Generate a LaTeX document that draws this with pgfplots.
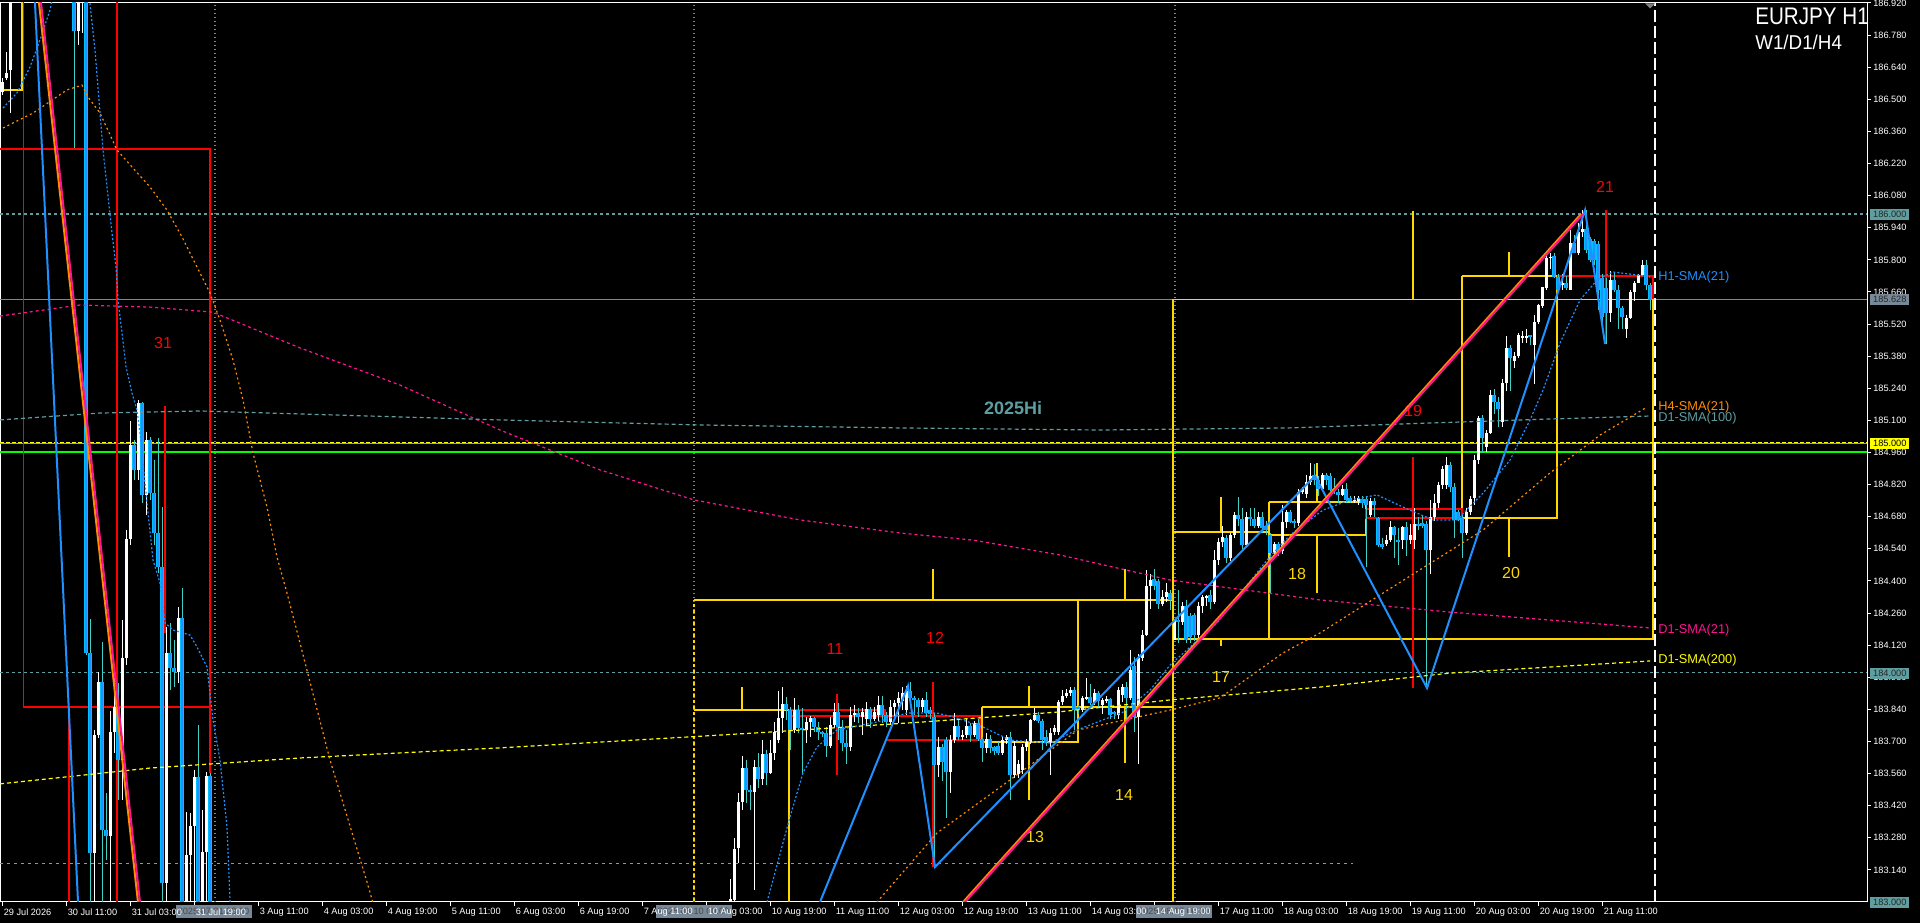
\documentclass[border=0pt]{standalone}
\usepackage{fontspec}
\setmainfont{Liberation Sans}
\usepackage{pgfplots}
\usepackage{pgfplotstable}
\pgfplotsset{compat=1.18}

\definecolor{dodger}{HTML}{1E90FF}
\definecolor{skyb}{HTML}{00BFFF}
\definecolor{turq}{HTML}{40D0C8}
\definecolor{dpink}{HTML}{FF1493}
\definecolor{dorange}{HTML}{FF8C00}
\definecolor{gold}{HTML}{FFD700}
\definecolor{yel}{HTML}{FFFF00}
\definecolor{cadet}{HTML}{5F9EA0}
\definecolor{slate}{HTML}{778899}
\definecolor{lime}{HTML}{00FF00}
\definecolor{gridgrey}{HTML}{808080}

\newcommand\ticklab{\fontsize{6.9}{8}\selectfont}
\newcommand\numlab{\fontsize{12}{14}\selectfont}
\newcommand\smalab{\fontsize{9.6}{11}\selectfont}

% EURJPY H1 candles: bar index, open, high, low, close
\pgfplotstableread{
i o h l c
0 186.532 186.593 186.519 186.575
1 186.593 186.706 186.584 186.615
2 186.628 187.200 186.440 187.100
18 187.300 187.400 186.288 186.800
19 186.800 187.300 186.737 187.200
20 187.000 187.400 186.790 187.300
21 187.300 187.400 184.077 184.086
22 184.086 184.234 182.900 183.214
23 183.214 183.750 182.900 183.728
24 183.728 184.003 183.715 183.959
25 183.959 184.134 182.900 183.314
26 183.314 183.475 183.183 183.288
27 183.288 183.833 182.900 183.741
28 183.741 183.977 183.650 183.850
29 183.850 183.955 183.445 183.619
30 183.619 184.230 183.445 184.064
31 184.064 184.622 184.033 184.583
32 184.583 185.097 184.557 184.993
33 184.993 185.014 184.840 184.884
34 184.884 185.189 184.840 185.176
35 185.176 185.180 184.740 184.775
36 184.775 185.050 184.688 185.014
37 185.014 185.028 184.753 184.784
38 184.784 184.927 184.557 184.609
39 184.609 185.023 184.434 184.461
40 184.461 184.722 182.900 183.083
41 183.083 184.199 182.900 184.086
42 184.086 184.217 183.924 184.020
43 184.020 184.142 183.937 184.003
44 184.003 184.286 183.955 184.238
45 184.238 184.369 182.900 182.950
46 182.950 183.393 182.900 183.205
47 183.205 183.388 182.900 183.331
48 183.331 183.576 182.900 183.545
49 183.545 183.772 182.900 182.950
50 182.950 183.401 182.900 183.218
51 183.218 183.567 182.900 183.549
52 183.549 183.563 182.900 182.950
182 182.990 183.100 182.980 183.013
183 183.009 183.279 182.980 183.235
184 183.235 183.475 183.170 183.436
185 183.436 183.637 183.401 183.584
186 183.584 183.619 183.432 183.488
187 183.488 183.510 183.401 183.480
188 183.480 183.619 183.052 183.589
189 183.589 183.650 183.500 183.536
190 183.536 183.706 183.510 183.645
191 183.645 183.663 183.510 183.563
192 183.563 183.706 183.560 183.650
193 183.650 183.785 183.619 183.741
194 183.706 183.920 183.695 183.802
195 183.802 183.937 183.737 183.863
196 183.863 183.894 183.794 183.837
197 183.837 183.850 183.663 183.750
198 183.750 183.889 183.737 183.837
199 183.837 183.859 183.737 183.759
200 183.759 183.846 183.554 183.750
201 183.750 183.807 183.695 183.785
202 183.785 183.810 183.720 183.802
203 183.802 183.807 183.741 183.763
204 183.763 183.785 183.706 183.741
205 183.741 183.745 183.720 183.737
206 183.737 183.763 183.632 183.680
207 183.680 183.807 183.672 183.772
208 183.772 183.868 183.763 183.828
209 183.828 183.868 183.706 183.763
210 183.763 183.794 183.658 183.693
211 183.693 183.750 183.602 183.676
212 183.676 183.850 183.660 183.815
213 183.815 183.859 183.785 183.824
214 183.824 183.846 183.780 183.807
215 183.807 183.846 183.728 183.828
216 183.800 183.870 183.770 183.840
217 183.840 183.850 183.760 183.800
218 183.800 183.850 183.790 183.830
219 183.815 183.900 183.790 183.859
220 183.859 183.900 183.780 183.815
221 183.815 183.830 183.763 183.785
222 183.785 183.880 183.772 183.850
223 183.850 183.881 183.807 183.868
224 183.868 183.916 183.780 183.890
225 183.880 183.937 183.837 183.911
226 183.837 183.942 183.815 183.920
227 183.920 183.960 183.859 183.890
228 183.890 183.900 183.815 183.880
229 183.880 183.890 183.807 183.850
230 183.850 183.890 183.830 183.880
231 183.880 183.916 183.807 183.824
232 183.840 183.850 183.800 183.820
233 183.807 183.824 183.153 183.598
234 183.598 183.720 183.545 183.676
235 183.676 183.690 183.530 183.610
236 183.706 183.720 183.366 183.567
237 183.567 183.728 183.475 183.706
238 183.706 183.824 183.695 183.767
239 183.767 183.794 183.706 183.720
240 183.720 183.750 183.706 183.730
241 183.730 183.800 183.715 183.767
242 183.767 183.780 183.700 183.730
243 183.730 183.790 183.720 183.780
244 183.780 183.800 183.700 183.710
245 183.710 183.720 183.610 183.672
246 183.672 183.740 183.650 183.710
247 183.710 183.730 183.650 183.670
248 183.676 183.680 183.640 183.660
249 183.680 183.700 183.640 183.650
250 183.650 183.720 183.640 183.706
251 183.706 183.730 183.690 183.720
252 183.720 183.740 183.445 183.554
253 183.554 183.700 183.540 183.680
254 183.560 183.620 183.540 183.600
255 183.576 183.690 183.560 183.676
256 183.676 183.710 183.660 183.697
257 183.697 183.800 183.690 183.794
258 183.794 183.846 183.790 183.815
259 183.815 183.830 183.780 183.790
260 183.790 183.800 183.663 183.706
261 183.720 183.750 183.680 183.697
262 183.697 183.760 183.554 183.740
263 183.740 183.770 183.730 183.760
264 183.740 183.880 183.730 183.872
265 183.872 183.924 183.860 183.898
266 183.898 183.930 183.890 183.910
267 183.910 183.940 183.900 183.925
268 183.925 183.937 183.750 183.837
269 183.850 183.860 183.820 183.837
270 183.837 183.900 183.830 183.890
271 183.890 183.977 183.880 183.894
272 183.894 183.950 183.860 183.870
273 183.870 183.930 183.860 183.911
274 183.911 183.920 183.850 183.875
275 183.860 183.890 183.820 183.880
276 183.880 183.900 183.870 183.885
277 183.885 183.890 183.800 183.815
278 183.830 183.835 183.800 183.820
279 183.815 183.937 183.800 183.924
280 183.904 183.950 183.870 183.937
281 183.937 183.960 183.785 183.890
282 183.890 184.099 183.880 184.012
283 184.030 184.070 183.740 183.807
284 183.807 184.080 183.600 184.064
285 184.064 184.186 184.050 184.165
286 184.165 184.448 184.160 184.380
287 184.380 184.430 184.280 184.404
288 184.410 184.452 184.360 184.380
289 184.400 184.410 184.280 184.300
290 184.300 184.360 184.290 184.330
291 184.330 184.390 184.310 184.350
292 184.350 184.360 184.273 184.317
293 184.142 184.235 184.142 184.230
294 184.230 184.360 184.130 184.220
295 184.220 184.310 184.210 184.290
296 184.290 184.317 184.130 184.142
297 184.250 184.260 184.130 184.155
298 184.250 184.260 184.140 184.165
299 184.165 184.310 184.150 184.290
300 184.290 184.340 184.260 184.330
301 184.330 184.340 184.290 184.335
302 184.340 184.360 184.280 184.310
303 184.310 184.535 184.300 184.491
304 184.491 184.590 184.470 184.570
305 184.570 184.640 184.550 184.590
306 184.590 184.600 184.478 184.500
307 184.500 184.610 184.490 184.600
308 184.600 184.700 184.590 184.688
309 184.688 184.766 184.640 184.670
310 184.670 184.720 184.535 184.557
311 184.557 184.700 184.550 184.680
312 184.680 184.720 184.640 184.670
313 184.670 184.720 184.630 184.640
314 184.640 184.700 184.630 184.680
315 184.680 184.700 184.610 184.630
316 184.640 184.660 184.600 184.620
317 184.600 184.610 184.350 184.520
318 184.520 184.570 184.510 184.560
319 184.560 184.570 184.510 184.530
320 184.530 184.730 184.520 184.657
321 184.657 184.710 184.630 184.700
322 184.700 184.710 184.655 184.660
323 184.660 184.670 184.630 184.655
324 184.655 184.800 184.640 184.788
325 184.788 184.810 184.780 184.800
326 184.780 184.860 184.760 184.831
327 184.831 184.914 184.820 184.860
328 184.860 184.910 184.820 184.840
329 184.840 184.860 184.770 184.800
330 184.800 184.870 184.790 184.860
331 184.860 184.870 184.820 184.840
332 184.860 184.870 184.790 184.796
333 184.800 184.850 184.780 184.790
334 184.790 184.800 184.740 184.775
335 184.775 184.820 184.770 184.800
336 184.800 184.830 184.740 184.753
337 184.760 184.770 184.740 184.750
338 184.750 184.770 184.740 184.755
339 184.750 184.770 184.730 184.760
340 184.760 184.770 184.720 184.740
341 184.760 184.770 184.460 184.731
342 184.688 184.760 184.680 184.750
343 184.750 184.760 184.680 184.730
344 184.675 184.680 184.550 184.557
345 184.560 184.590 184.540 184.550
346 184.560 184.600 184.555 184.580
347 184.578 184.660 184.570 184.635
348 184.635 184.640 184.500 184.600
349 184.580 184.630 184.470 184.575
350 184.580 184.640 184.540 184.635
351 184.635 184.660 184.510 184.580
352 184.580 184.650 184.560 184.600
353 184.580 184.720 184.540 184.650
354 184.650 184.680 184.620 184.640
355 184.655 184.690 184.630 184.640
356 184.650 184.660 183.933 184.535
357 184.535 184.753 184.430 184.680
358 184.680 184.780 184.660 184.740
359 184.740 184.830 184.720 184.820
360 184.820 184.900 184.800 184.890
361 184.820 184.940 184.800 184.906
362 184.906 184.920 184.790 184.810
363 184.810 184.830 184.590 184.666
364 184.700 184.710 184.660 184.666
365 184.675 184.690 184.500 184.610
366 184.610 184.720 184.600 184.700
367 184.700 184.770 184.690 184.760
368 184.760 184.950 184.730 184.927
369 184.927 185.120 184.910 185.110
370 185.110 185.125 184.960 185.023
371 184.984 185.060 184.960 185.045
372 185.045 185.232 185.040 185.210
373 185.210 185.240 185.130 185.180
374 185.180 185.200 185.070 185.150
375 185.093 185.280 185.070 185.263
376 185.263 185.470 185.230 185.416
377 185.416 185.430 185.230 185.370
378 185.360 185.400 185.330 185.380
379 185.380 185.480 185.370 185.473
380 185.460 185.490 185.440 185.470
381 185.460 185.500 185.440 185.470
382 185.470 185.470 185.430 185.465
383 185.430 185.560 185.260 185.530
384 185.530 185.610 185.520 185.603
385 185.600 185.680 185.590 185.680
386 185.680 185.834 185.670 185.810
387 185.810 185.830 185.760 185.815
388 185.815 185.830 185.720 185.725
389 185.725 185.740 185.660 185.668
390 185.690 185.740 185.670 185.700
391 185.700 185.730 185.670 185.680
392 185.670 185.930 185.670 185.874
393 185.874 185.910 185.830 185.830
394 185.830 185.960 185.820 185.920
395 185.920 186.017 185.900 185.935
396 185.935 186.017 185.830 185.843
397 185.890 185.900 185.790 185.800
398 185.880 185.890 185.780 185.800
399 185.870 185.880 185.580 185.668
400 185.720 185.740 185.490 185.550
401 185.680 185.720 185.433 185.568
402 185.568 185.750 185.530 185.712
403 185.712 185.750 185.660 185.670
404 185.670 185.690 185.500 185.590
405 185.590 185.600 185.500 185.550
406 185.500 185.560 185.460 185.546
407 185.546 185.670 185.540 185.660
408 185.660 185.710 185.620 185.700
409 185.700 185.740 185.700 185.734
410 185.734 185.800 185.730 185.777
411 185.777 185.800 185.670 185.690
412 185.690 185.700 185.580 185.628
}\candles

\pgfplotsset{
  lw/.style={line width=0.9pt},
  bx/.style={line width=1pt},
  bull/.style={restrict expr to domain={\thisrow{c}-\thisrow{o}}{0:100}},
  bear/.style={restrict expr to domain={\thisrow{c}-\thisrow{o}}{-100:-0.00001}},
}

\begin{document}
\begin{tikzpicture}
\fill[black] (0,0) rectangle (1440pt,692.25pt);
\begin{axis}[
  at={(0pt,15.75pt)}, anchor=south west, scale only axis,
  width=1400.25pt, height=674.25pt,
  xmin=-0.5, xmax=466.25, ymin=183, ymax=186.92,
  axis line style={white, line width=0.75pt},
  xtick={0,16,32,48,64,80,96,112,128,144,160,176,192,208,224,240,256,272,288,304,320,336,352,368,384,400},
  ytick={183.14,183.28,183.42,183.56,183.70,183.84,183.98,184.12,184.26,184.40,184.54,184.68,184.82,184.96,185.10,185.24,185.38,185.52,185.66,185.80,185.94,186.08,186.22,186.36,186.50,186.64,186.78,186.92},
  xticklabel={}, yticklabel={},
  xtick pos=bottom, ytick pos=right,
  tick align=outside, major tick length=3pt,
  tick style={white, line width=0.75pt},
  clip=true,
]
% grid and separators
\addplot[gridgrey, lw, dash pattern=on 0.75pt off 2.25pt] coordinates {(53.25,183)(53.25,186.92)};
\addplot[gridgrey, lw, dash pattern=on 0.75pt off 2.25pt] coordinates {(173,183)(173,186.92)};
\addplot[gridgrey, lw, dash pattern=on 0.75pt off 2.25pt] coordinates {(293.25,183)(293.25,186.92)};
% price levels
\addplot[cadet, lw, dash pattern=on 2.25pt off 2.25pt] coordinates {(-0.5,186)(466.25,186)};
\addplot[cadet, lw, dash pattern=on 2.25pt off 2.25pt] coordinates {(-0.5,184)(466.25,184)};
\addplot[slate, lw] coordinates {(-0.5,185.628)(466.25,185.628)};
\addplot[cadet!80!white, lw] coordinates {(-0.5,184.998)(466.25,184.998)};
\addplot[yel, lw, dash pattern=on 3pt off 1.5pt] coordinates {(-0.5,185.003)(466.25,185.003)};
\addplot[lime, line width=1.6pt] coordinates {(-0.5,184.962)(466.25,184.962)};
\addplot[dorange!70!gray, line width=0.6pt, dash pattern=on 2.25pt off 3pt] coordinates {(-0.5,183.170)(337.75,183.170)};

% daily / weekly boxes (yellow)
\addplot[gold, bx] coordinates {(0.25,186.541)(5,186.541)(5,187)};
\addplot[gold, bx, dash pattern=on 2.25pt off 2.25pt] coordinates {(173,182.9)(173,184.317)};
\addplot[gold, bx] coordinates {(173,184.317)(292.75,184.317)};
\addplot[gold, bx] coordinates {(292.75,182.9)(292.75,185.628)};
\addplot[gold, bx] coordinates {(232.75,184.317)(232.75,184.452)};
\addplot[gold, bx] coordinates {(173,183.837)(196.75,183.837)(196.75,182.9)};
\addplot[gold, bx] coordinates {(185,183.837)(185,183.937)};
\addplot[gold, bx] coordinates {(245,183.85)(269,183.85)(269,183.697)(245,183.697)(245,183.85)};
\addplot[gold, bx] coordinates {(256.75,183.942)(256.75,183.85)};
\addplot[gold, bx] coordinates {(256.75,183.697)(256.75,183.445)};
\addplot[gold, bx] coordinates {(269,184.317)(269,183.85)(292.75,183.85)};
\addplot[gold, bx] coordinates {(280.75,184.452)(280.75,184.317)};
\addplot[gold, bx] coordinates {(280.75,183.85)(280.75,183.605)};
\addplot[gold, bx] coordinates {(292.75,185.628)(412.75,185.628)(412.75,184.147)(292.75,184.147)};
\addplot[gold, bx] coordinates {(352.75,186.013)(352.75,185.628)};
\addplot[gold, bx] coordinates {(352.75,184.147)(352.75,183.933)};
\addplot[gold, bx] coordinates {(292.75,184.613)(316.75,184.613)(316.75,184.147)};
\addplot[gold, bx] coordinates {(304.75,184.766)(304.75,184.613)};
\addplot[gold, bx] coordinates {(304.75,184.147)(304.75,184.116)};
\addplot[gold, bx] coordinates {(316.75,184.744)(341,184.744)(341,184.600)(316.75,184.600)(316.75,184.744)};
\addplot[gold, bx] coordinates {(328.75,184.914)(328.75,184.744)};
\addplot[gold, bx] coordinates {(328.75,184.600)(328.75,184.347)};
\addplot[gold, bx] coordinates {(365,185.729)(388.75,185.729)(388.75,184.674)(365,184.674)(365,185.729)};
\addplot[gold, bx] coordinates {(376.75,185.834)(376.75,185.729)};
\addplot[gold, bx] coordinates {(376.75,184.674)(376.75,184.504)};
% daily boxes (red)
\addplot[red, bx] coordinates {(-0.5,186.283)(52,186.283)(52,183.563)};
\addplot[red, bx] coordinates {(5.4,187)(5.4,183.85)(52,183.85)};
\addplot[red, bx] coordinates {(28.75,182.9)(28.75,187)};
\addplot[red, bx] coordinates {(16.75,183.807)(16.75,182.9)};
\addplot[red, bx] coordinates {(40.75,185.163)(40.75,184.173)};
\addplot[red, bx] coordinates {(196.75,183.837)(220.75,183.837)(220.75,183.811)(196.75,183.811)(196.75,183.837)};
\addplot[red, bx] coordinates {(208.75,183.907)(208.75,183.554)};
\addplot[red, bx] coordinates {(220.75,183.811)(244.5,183.811)(244.5,183.706)(220.75,183.706)};
\addplot[red, bx] coordinates {(232.75,183.959)(232.75,183.153)};
\addplot[red, bx] coordinates {(341,184.714)(365,184.714)(365,184.674)(341,184.674)(341,184.714)};
\addplot[red, bx] coordinates {(352.75,184.940)(352.75,183.933)};
\addplot[red, bx] coordinates {(388.75,185.729)(412.75,185.729)(412.75,185.628)};
\addplot[red, bx] coordinates {(401,186.017)(401,185.433)};

% candles: wicks
\addplot[draw=none, bull, error bars/.cd, y dir=both, y explicit, error mark=none,
  error bar style={draw=white, line width=0.75pt}]
  table[x=i, y expr=(\thisrow{h}+\thisrow{l})/2, y error expr=(\thisrow{h}-\thisrow{l})/2]{\candles};
\addplot[draw=none, bear, error bars/.cd, y dir=both, y explicit, error mark=none,
  error bar style={draw=turq, line width=0.75pt}]
  table[x=i, y expr=(\thisrow{h}+\thisrow{l})/2, y error expr=(\thisrow{h}-\thisrow{l})/2]{\candles};
% candles: bodies
\addplot[draw=none, bull, error bars/.cd, y dir=both, y explicit, error mark=none,
  error bar style={draw=white, line width=2.25pt}]
  table[x=i, y expr=(\thisrow{o}+\thisrow{c})/2, y error expr={max(abs(\thisrow{c}-\thisrow{o})/2,0.0016)}]{\candles};
\addplot[draw=none, bear, error bars/.cd, y dir=both, y explicit, error mark=none,
  error bar style={draw=skyb, line width=2.4pt}]
  table[x=i, y expr=(\thisrow{o}+\thisrow{c})/2, y error expr={max(abs(\thisrow{c}-\thisrow{o})/2,0.0016)}]{\candles};
\addplot[draw=none, bear, error bars/.cd, y dir=both, y explicit, error mark=none,
  error bar style={draw=dodger, line width=1.3pt}]
  table[x=i, y expr=(\thisrow{o}+\thisrow{c})/2, y error expr={max(abs(\thisrow{c}-\thisrow{o})/2,0.0016)}]{\candles};

% moving averages
\addplot[dpink, lw, dash pattern=on 2.25pt off 2.25pt] coordinates {(-0.5,185.555)(19.5,185.603)(37,185.594)(52.75,185.572)(74.5,185.416)(99.5,185.254)(124.5,185.058)(149.5,184.884)(173,184.753)(199.5,184.666)(224.5,184.609)(242.75,184.578)(264.5,184.513)(292,184.404)(329.5,184.317)(362,184.264)(412,184.195)};
\addplot[cadet, lw, dash pattern=on 3pt off 2.25pt] coordinates {(-0.5,185.102)(24.5,185.132)(49.5,185.141)(74.5,185.128)(124.5,185.102)(174.5,185.080)(224.5,185.067)(274.5,185.058)(321.5,185.067)(349.5,185.084)(387,185.106)(412,185.119)};
\addplot[yel, lw, dash pattern=on 3pt off 2.25pt] coordinates {(-0.5,183.515)(37,183.584)(74.5,183.628)(124.5,183.672)(172,183.720)(192,183.741)(230.25,183.785)(263.75,183.828)(292,183.881)(329.5,183.937)(362,183.998)(412,184.051)};
\addplot[dorange, lw, dash pattern=on 1.5pt off 2.25pt] coordinates {(0.25,186.375)(7.75,186.440)(16.25,186.541)(20,186.562)(21.5,186.510)(24.5,186.440)(28.75,186.279)(32.75,186.200)(37,186.118)(41.25,186.017)(45,185.900)(48.75,185.769)(52,185.655)(54.5,185.538)(57.75,185.363)(60.25,185.189)(62.75,184.958)(66.25,184.722)(68.75,184.504)(71.25,184.347)(74.5,184.129)(82,183.619)(91.25,183.087)(93.25,182.965)};
\addplot[dorange, lw, dash pattern=on 1.5pt off 2.25pt] coordinates {(213.75,182.90)(218.75,183.0)(233.75,183.301)(252,183.532)(269,183.750)(292,183.837)(304.5,183.890)(320.25,184.086)(329.5,184.173)(345.25,184.347)(370.25,184.622)(387,184.871)(399.5,185.036)(411.25,185.158)};
\addplot[dodger, lw, dash pattern=on 1.5pt off 1.5pt] coordinates {(0.25,186.462)(3.75,186.528)(7,186.641)(9.5,186.759)(12,186.889)(12.75,186.955)(17,187.3)(21.75,186.955)(23.25,186.715)(24.25,186.497)(25.25,186.279)(26.25,186.118)(27.5,185.917)(28.5,185.769)(29,185.625)(30,185.481)(31,185.333)(32.5,185.219)(33.75,185.145)(34.5,185.045)(36.25,184.740)(37.75,184.491)(39.5,184.391)(40.75,184.217)(42.75,184.186)(47,184.164)(48.75,184.112)(51.25,184.025)(52.75,183.794)(54.5,183.619)(56.25,183.327)(57,183.009)(57.5,182.88)};
\addplot[dodger, lw, dash pattern=on 1.5pt off 1.5pt] coordinates {(189.5,182.90)(191.25,183.00)(197,183.371)(200.25,183.563)(203.75,183.676)(208.75,183.750)(218.75,183.785)(226.25,183.824)(233.75,183.824)(238.75,183.802)(245.25,183.763)(252,183.706)(262,183.693)(268.75,183.750)(280.25,183.828)(287,183.924)(292,184.033)(303.75,184.217)(316.25,184.491)(322,184.600)(330.25,184.709)(337,184.753)(343.75,184.775)(350.25,184.722)(357.75,184.666)(363.75,184.666)(370.25,184.783)(377,184.927)(382,185.102)(385.25,185.232)(389.5,185.437)(394.5,185.625)(398.75,185.712)(402.75,185.747)(408.75,185.734)(412,185.725)};

% labels of days
\node[text=red, font=\numlab] at (axis cs:40.25,185.438) {31};
\node[text=red, font=\numlab] at (axis cs:208.25,184.103) {11};
\node[text=red, font=\numlab] at (axis cs:233.25,184.151) {12};
\node[text=gold, font=\numlab] at (axis cs:258.25,183.284) {13};
\node[text=gold, font=\numlab] at (axis cs:280.5,183.467) {14};
\node[text=gold, font=\numlab] at (axis cs:304.75,183.981) {17};
\node[text=gold, font=\numlab] at (axis cs:323.75,184.430) {18};
\node[text=red, font=\numlab] at (axis cs:352.75,185.141) {19};
\node[text=gold, font=\numlab] at (axis cs:377.25,184.435) {20};
\node[text=red, font=\numlab] at (axis cs:400.75,186.118) {21};
\node[text=cadet, font=\fontsize{13.5}{15}\selectfont\bfseries] at (axis cs:252.75,185.154) {2025Hi};

% zigzag and trend lines
\addplot[dodger, line width=1.5pt] coordinates {(8,187.01)(19.5,182.82)};
\addplot[dodger, line width=1.5pt] coordinates {(199.5,182.786)(226.5,183.942)(233.25,183.153)(328.25,184.858)(356.25,183.933)(395.75,186.017)(400.75,185.433)};
\addplot[dorange, line width=1.5pt] coordinates {(8.5,187.04)(34.75,182.88)};
\addplot[dpink, line width=1.5pt] coordinates {(9,187.04)(35.25,182.88)};
\addplot[dorange, line width=1.5pt] coordinates {(234.5,182.888)(394.75,186.0)};
\addplot[dpink, line width=1.5pt] coordinates {(235,182.888)(395.25,186.0)};
% current time line
\addplot[white, line width=1pt, dash pattern=on 9pt off 3pt] coordinates {(413.25,183)(413.25,186.92)};
\end{axis}

\begin{scope}[x=0.75pt,y=-0.75pt,shift={(0pt,692.25pt)}]
% price scale
\foreach \yy/\tt in {3/186.920,35.1/186.780,67.2/186.640,99.3/186.500,131.4/186.360,163.5/186.220,195.6/186.080,227.8/185.940,259.9/185.800,292/185.660,324.1/185.520,356.2/185.380,388.3/185.240,420.4/185.100,452.5/184.960,484.6/184.820,516.7/184.680,548.8/184.540,580.9/184.400,613.1/184.260,645.2/184.120,677.3/183.980,709.4/183.840,741.5/183.700,773.6/183.560,805.7/183.420,837.8/183.280,869.9/183.140}
  \node[anchor=west, text=white, font=\ticklab, inner sep=0pt] at (1873,\yy) {\tt};
\foreach \yy/\tt/\bg/\fg in {214.5/186.000/cadet/black!85, 299.5/185.628/slate/black!85, 443.5/185.000/yel/black, 673.5/184.000/cadet/black!85, 902.5/183.000/cadet/black!85}
  \node[anchor=west, fill=\bg, text=\fg, font=\ticklab, inner sep=0pt, minimum width=29.25pt, minimum height=8.25pt] at (1870,\yy) {\tt};
% separator labels on time scale
\foreach \xx/\tt in {213.5/2025.07.31 23:00, 693.5/2025.08.10 00:00, 1174/2025.08.17 00:00}
  \node[fill=slate, text=black!70, font=\ticklab, inner sep=0pt, minimum width=57pt, minimum height=9.5pt] at (\xx,911.5) {\tt};
% time scale
\foreach \xx/\tt in {2/29 Jul 2026,66/30 Jul 11:00,130/31 Jul 03:00,194/31 Jul 19:00,258/3 Aug 11:00,322/4 Aug 03:00,386/4 Aug 19:00,450/5 Aug 11:00,514/6 Aug 03:00,578/6 Aug 19:00,642/7 Aug 11:00,706/10 Aug 03:00,770/10 Aug 19:00,834/11 Aug 11:00,898/12 Aug 03:00,962/12 Aug 19:00,1026/13 Aug 11:00,1090/14 Aug 03:00,1154/14 Aug 19:00,1218/17 Aug 11:00,1282/18 Aug 03:00,1346/18 Aug 19:00,1410/19 Aug 11:00,1474/20 Aug 03:00,1538/20 Aug 19:00,1602/21 Aug 11:00}
  \node[anchor=west, text=white, font=\ticklab, inner sep=0pt] at (\xx+1.5,912) {\tt};
% indicator names
\node[anchor=west, text=dodger, font=\smalab, inner sep=0pt] at (1658,277) {H1-SMA(21)};
\node[anchor=west, text=dorange, font=\smalab, inner sep=0pt] at (1658,407) {H4-SMA(21)};
\node[anchor=west, text=cadet, font=\smalab, inner sep=0pt] at (1658,418) {D1-SMA(100)};
\node[anchor=west, text=dpink, font=\smalab, inner sep=0pt] at (1658,630) {D1-SMA(21)};
\node[anchor=west, text=yel, font=\smalab, inner sep=0pt] at (1658,660) {D1-SMA(200)};
% title
\node[anchor=north west, text=white, inner sep=0pt] at (1755,8) {\fontsize{18}{20}\selectfont\scalebox{0.86}[1]{EURJPY H1}};
\node[anchor=north west, text=white, inner sep=0pt] at (1755,35) {\fontsize{15}{17}\selectfont\scalebox{0.94}[1]{W1/D1/H4}};
\fill[gridgrey] (1645,3.5) -- (1655,3.5) -- (1650,8.5) -- cycle;
\end{scope}
\pgfresetboundingbox
\path (0,0) rectangle (1440pt,692.25pt);
\end{tikzpicture}
\end{document}
